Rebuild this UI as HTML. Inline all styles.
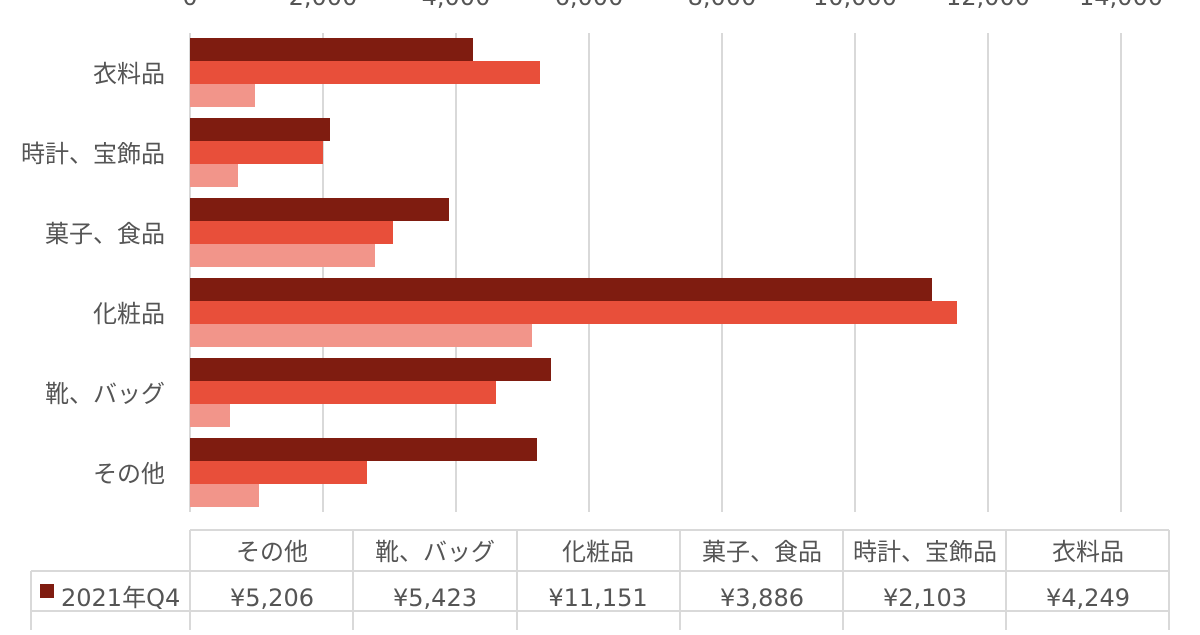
<!DOCTYPE html>
<html><head><meta charset="utf-8"><style>
body{margin:0;background:#fff;}
svg text{font-family:"DejaVu Sans","Noto Sans CJK JP",sans-serif;fill:#555;font-size:24px;}
</style></head><body>
<svg width="1200" height="630" xmlns="http://www.w3.org/2000/svg">
<g stroke="#d9d9d9" stroke-width="2">
<line x1="190" y1="33" x2="190" y2="512"/><line x1="323" y1="33" x2="323" y2="512"/><line x1="456" y1="33" x2="456" y2="512"/><line x1="589" y1="33" x2="589" y2="512"/><line x1="722" y1="33" x2="722" y2="512"/><line x1="855" y1="33" x2="855" y2="512"/><line x1="988" y1="33" x2="988" y2="512"/><line x1="1121" y1="33" x2="1121" y2="512"/>
</g>
<g text-anchor="middle">
<text x="190" y="5">0</text><text x="323" y="5">2,000</text><text x="456" y="5">4,000</text><text x="589" y="5">6,000</text><text x="722" y="5">8,000</text><text x="855" y="5">10,000</text><text x="988" y="5">12,000</text><text x="1121" y="5">14,000</text>
</g>
<g>
<rect x="190" y="38" width="283" height="23" fill="#7f1c10"/><rect x="190" y="61" width="350" height="23" fill="#e84f3a"/><rect x="190" y="84" width="65" height="23" fill="#f2958a"/>
<rect x="190" y="118" width="140" height="23" fill="#7f1c10"/><rect x="190" y="141" width="133" height="23" fill="#e84f3a"/><rect x="190" y="164" width="48" height="23" fill="#f2958a"/>
<rect x="190" y="198" width="259" height="23" fill="#7f1c10"/><rect x="190" y="221" width="203" height="23" fill="#e84f3a"/><rect x="190" y="244" width="185" height="23" fill="#f2958a"/>
<rect x="190" y="278" width="742" height="23" fill="#7f1c10"/><rect x="190" y="301" width="767" height="23" fill="#e84f3a"/><rect x="190" y="324" width="342" height="23" fill="#f2958a"/>
<rect x="190" y="358" width="361" height="23" fill="#7f1c10"/><rect x="190" y="381" width="306" height="23" fill="#e84f3a"/><rect x="190" y="404" width="40" height="23" fill="#f2958a"/>
<rect x="190" y="438" width="347" height="23" fill="#7f1c10"/><rect x="190" y="461" width="177" height="23" fill="#e84f3a"/><rect x="190" y="484" width="69" height="23" fill="#f2958a"/>
</g>
<g text-anchor="end">
<text x="165" y="82">衣料品</text><text x="165" y="162">時計、宝飾品</text><text x="165" y="242">菓子、食品</text><text x="165" y="322">化粧品</text><text x="165" y="402">靴、バッグ</text><text x="165" y="482">その他</text>
</g>
<g stroke="#d9d9d9" stroke-width="2" fill="none">
<line x1="190" y1="530" x2="1169" y2="530"/>
<line x1="31" y1="571" x2="1169" y2="571"/>
<line x1="31" y1="611" x2="1169" y2="611"/>
<line x1="31" y1="571" x2="31" y2="630"/>
<line x1="190" y1="530" x2="190" y2="630"/><line x1="353" y1="530" x2="353" y2="630"/><line x1="517" y1="530" x2="517" y2="630"/><line x1="680" y1="530" x2="680" y2="630"/><line x1="843" y1="530" x2="843" y2="630"/><line x1="1006" y1="530" x2="1006" y2="630"/><line x1="1169" y1="530" x2="1169" y2="630"/>
</g>
<g text-anchor="middle">
<text x="272" y="560">その他</text><text x="435" y="560">靴、バッグ</text><text x="598" y="560">化粧品</text><text x="762" y="560">菓子、食品</text><text x="925" y="560">時計、宝飾品</text><text x="1088" y="560">衣料品</text>
<text x="272" y="606">¥5,206</text><text x="435" y="606">¥5,423</text><text x="598" y="606">¥11,151</text><text x="762" y="606">¥3,886</text><text x="925" y="606">¥2,103</text><text x="1088" y="606">¥4,249</text>
</g>
<rect x="40" y="584" width="14" height="14" fill="#7f1c10"/>
<text x="61" y="606">2021年Q4</text>
</svg>
</body></html>
